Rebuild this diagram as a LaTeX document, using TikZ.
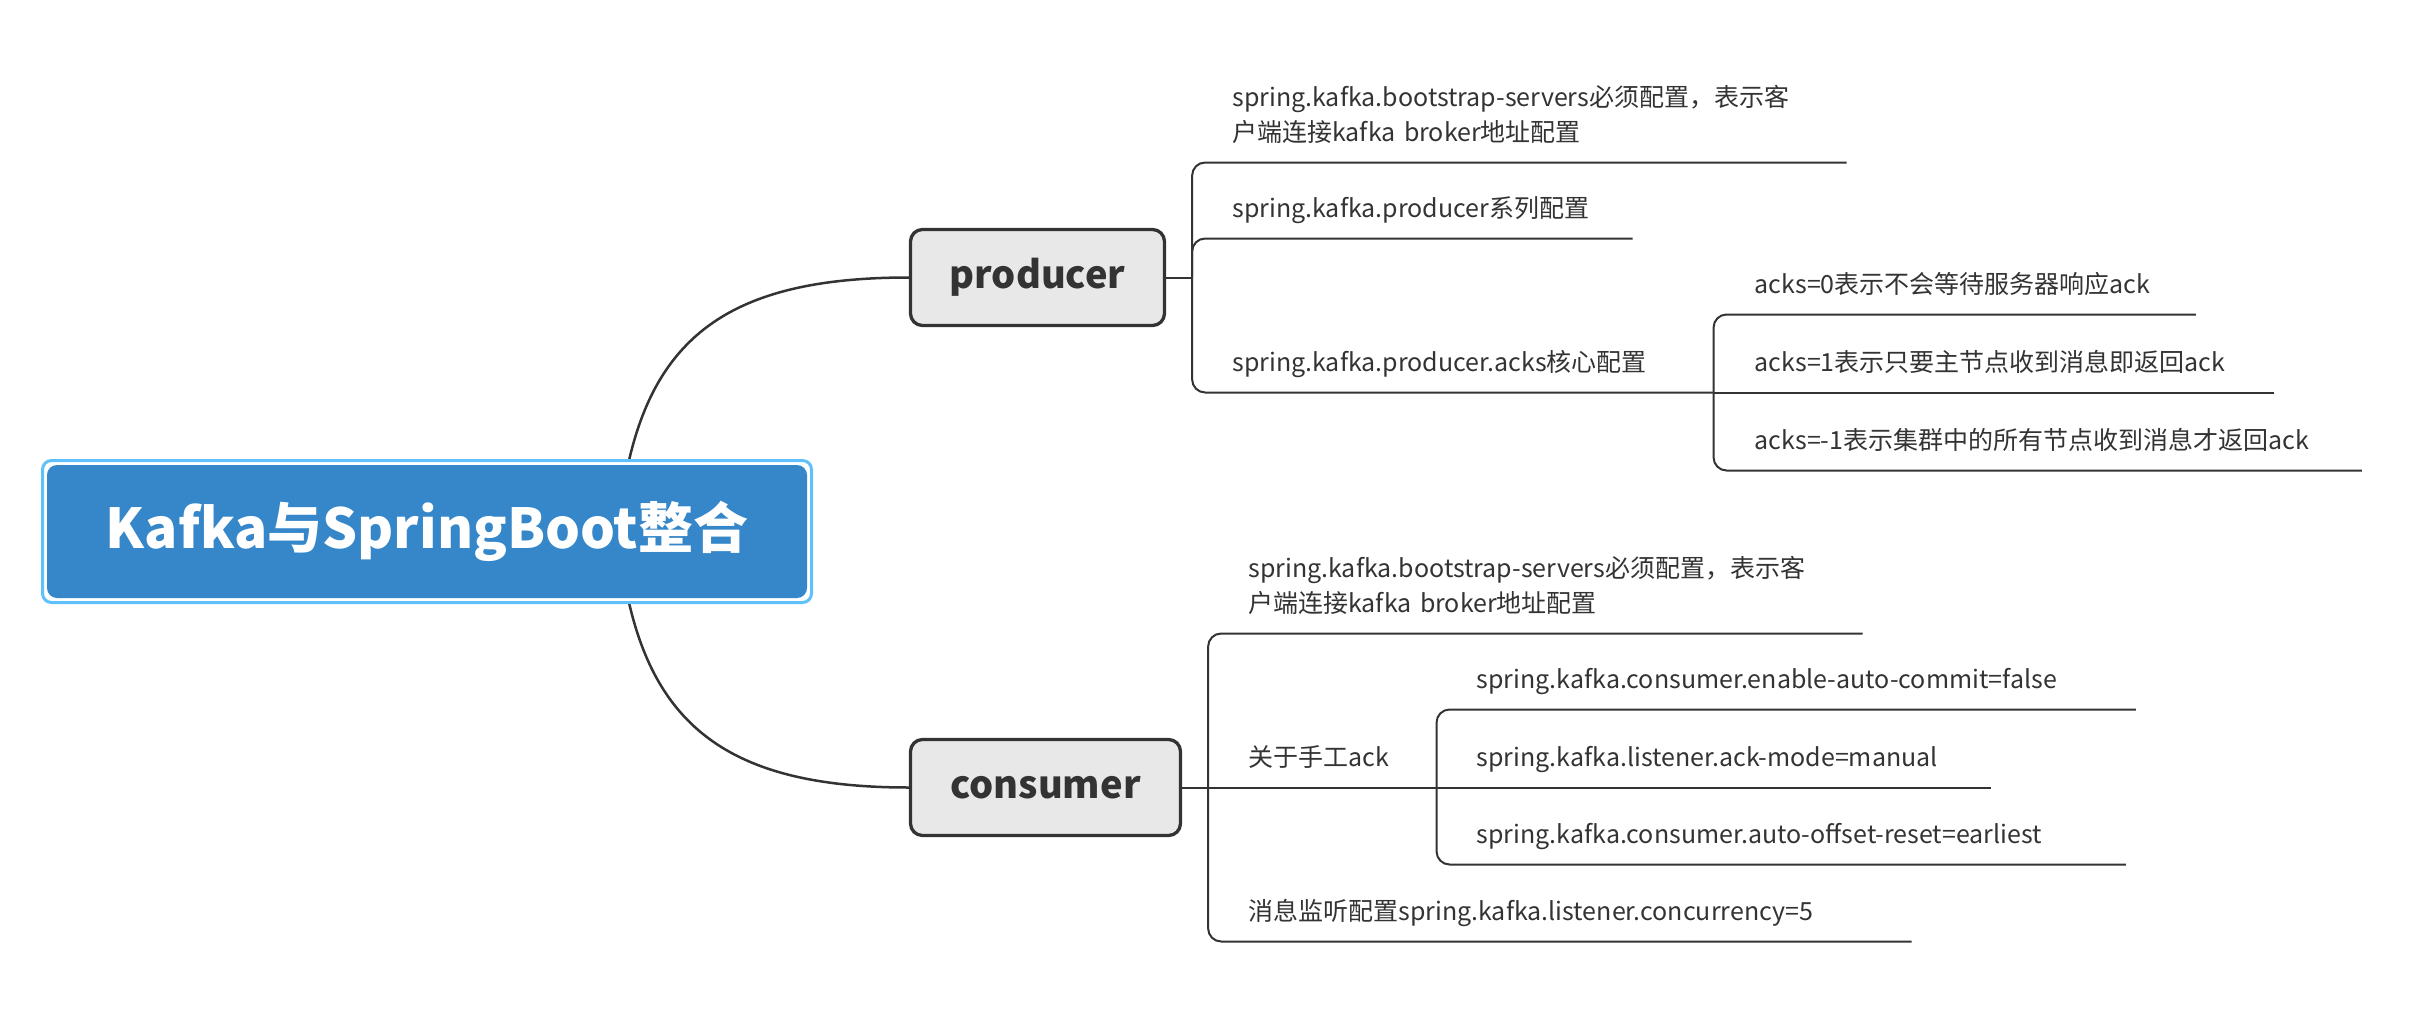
\documentclass[tikz,border=0pt]{standalone}
\usepackage{fontspec}
\setmainfont{Noto Sans CJK SC}
\usetikzlibrary{positioning}
\definecolor{rootblue}{RGB}{53,135,201}
\definecolor{rimblue}{RGB}{95,192,250}
\definecolor{topicgray}{RGB}{232,232,232}
\definecolor{ink}{RGB}{51,51,51}
\exhyphenpenalty=10000
\tikzset{twig/.style={draw=ink,line width=2pt,rounded corners=13pt}}
\tikzset{leaf/.style={inner sep=0pt,text depth=21pt,text width=#1,align=left,
                      text=ink,font=\fontsize{25}{35}\selectfont}}

\begin{document}
\begin{tikzpicture}[x=1pt,y=-1pt]

\tikzstyle{topic}=[draw=ink,line width=3.3pt,fill=topicgray,rounded corners=12pt,
                   minimum height=96pt,text=ink,font=\fontsize{38}{40}\selectfont\bfseries]
\tikzstyle{limb}=[draw=ink,line width=2.5pt]

\useasboundingbox (0,0) rectangle (2420,1030);

 \node[topic,minimum width=254pt] (producer) at (1037.5,277.5) {producer};
 \node[topic,minimum width=270pt] (consumer) at (1045.5,787.5) {consumer};

 \coordinate (hub) at (618,531.5);
 \draw[limb] (hub) .. controls +(17,-181) and +(-199,0) .. (producer.west);
 \draw[limb] (hub) .. controls +(17,181) and +(-199,0) .. (consumer.west);

 \node[draw=rimblue,line width=3pt,fill=white,rounded corners=9pt,
       minimum width=769pt,minimum height=142pt] (rim) at (427,531.5) {};
 \node[fill=rootblue,rounded corners=10pt,minimum width=760pt,minimum height=133pt,
       text=white,font=\fontsize{55}{60}\selectfont\bfseries] (root) at (rim)
      {Kafka与SpringBoot整合};

 % producer side
 \coordinate[right=26pt of producer] (pb);
 \node[leaf=614pt,text depth=56pt,above right=115pt and 40pt of pb,anchor=south west] (pc1)
      {spring.kafka.bootstrap-servers必须配置，表示客\\户端连接kafka broker地址配置};
 \node[leaf=400pt,above right=39pt and 40pt of pb,anchor=south west] (pc2)
      {spring.kafka.producer系列配置};
 \node[leaf=481pt,below right=115pt and 40pt of pb,anchor=south west] (pc3)
      {spring.kafka.producer.acks核心配置};

 \draw[twig] (producer) -- (pb);
 \draw[twig] (pb) |- (pc1.south east);
 \draw[twig] (pb) |- (pc2.south east);
 \draw[twig] (pb) |- (pc3.south east);

 \coordinate (gb) at (pc3.south east);
 \node[leaf=441pt,above right=78pt and 41pt of gb,anchor=south west] (pg1)
      {acks=0表示不会等待服务器响应ack};
 \node[leaf=519pt,right=41pt of gb,anchor=south west] (pg2)
      {acks=1表示只要主节点收到消息即返回ack};
 \node[leaf=607pt,below right=78pt and 41pt of gb,anchor=south west] (pg3)
      {acks=-1表示集群中的所有节点收到消息才返回ack};

 \draw[twig] (gb) |- (pg1.south east);
 \draw[twig] (gb) -- (pg2.south east);
 \draw[twig] (gb) |- (pg3.south east);

 % consumer side
 \coordinate[right=26pt of consumer] (cb);
 \node[leaf=614pt,text depth=56pt,above right=154pt and 40pt of cb,anchor=south west] (cc1)
      {spring.kafka.bootstrap-servers必须配置，表示客\\户端连接kafka broker地址配置};
 \node[leaf=188pt,right=40pt of cb,anchor=south west] (cc2)
      {关于手工ack};
 \node[leaf=663pt,below right=154pt and 40pt of cb,anchor=south west] (cc3)
      {消息监听配置spring.kafka.listener.concurrency=5};

 \draw[twig] (consumer) -- (cb);
 \draw[twig] (cb) |- (cc1.south east);
 \draw[twig] (cb) -- (cc2.south east);
 \draw[twig] (cb) |- (cc3.south east);

 \coordinate (hb) at (cc2.south east);
 \node[leaf=659pt,above right=78pt and 40pt of hb,anchor=south west] (cg1)
      {spring.kafka.consumer.enable-auto-commit=false};
 \node[leaf=514pt,right=40pt of hb,anchor=south west] (cg2)
      {spring.kafka.listener.ack-mode=manual};
 \node[leaf=649pt,below right=77pt and 40pt of hb,anchor=south west] (cg3)
      {spring.kafka.consumer.auto-offset-reset=earliest};

 \draw[twig] (hb) |- (cg1.south east);
 \draw[twig] (hb) -- (cg2.south east);
 \draw[twig] (hb) |- (cg3.south east);

\end{tikzpicture}
\end{document}
